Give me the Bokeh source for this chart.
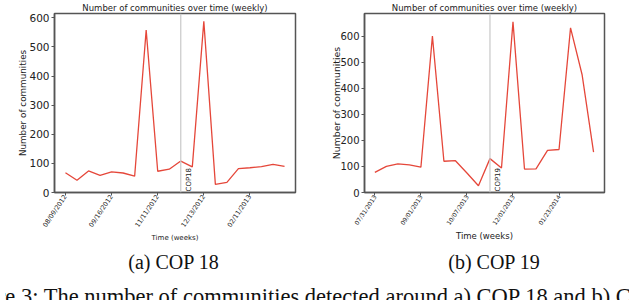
from math import pi
from bokeh.plotting import figure
from bokeh.models import FixedTicker, Span, Label, Div
from bokeh.layouts import row, column
from bokeh.embed import file_html
from bokeh.resources import INLINE

# ---- data ----
weeks_idx = list(range(20))
tick_index = [0, 4, 8, 12, 16]
cop_index = 10
y_ticks = [0, 100, 200, 300, 400, 500, 600]

cop18_tick_labels = ["08/09/2012", "09/16/2012", "11/11/2012", "12/13/2012", "02/11/2013"]
cop18_values = [68, 42, 74, 59, 71, 67, 56, 558, 73, 80, 108, 88, 588, 28, 35, 82, 85, 89, 97, 90]

cop19_tick_labels = ["07/31/2013", "09/01/2013", "10/07/2013", "12/01/2013", "01/23/2014"]
cop19_values = [77, 100, 110, 106, 97, 600, 120, 122, 75, 26, 130, 94, 655, 90, 91, 162, 165, 632, 453, 155]

title_text = "Number of communities over time (weekly)"
ylabel_text = "Number of communities"
xlabel_text = "Time (weeks)"
sub_captions = ["(a) COP 18", "(b) COP 19"]
figure_caption = "Figure 3: The number of communities detected around a) COP 18 and b) COP 19."

LINE = "#e5473a"
FRAME = "#555555"
SANS = "DejaVu Sans"
SERIF = "Liberation Serif"


def panel(values, tick_labels, cop_text, xr, ymax, mb_left, mb_right,
          ytick_fs, ylab_fs, ylab_standoff, xtick_fs, xlab_fs):
    p = figure(width=312, height=245, x_range=xr, y_range=(0, ymax),
               output_backend="svg", toolbar_location=None,
               min_border_left=mb_left, min_border_right=mb_right,
               min_border_top=0, min_border_bottom=0)
    p.title.text = title_text
    p.title.align = "center"
    p.title.text_font = SANS
    p.title.text_font_size = "8.5px"
    p.title.text_font_style = "normal"
    p.title.text_color = "#222222"
    p.title.standoff = 1

    p.xgrid.visible = False
    p.ygrid.visible = False
    p.outline_line_color = FRAME
    p.outline_line_width = 1.5
    p.background_fill_color = "white"
    p.border_fill_color = "white"

    for ax in (p.xaxis[0], p.yaxis[0]):
        ax.axis_line_color = FRAME
        ax.axis_line_width = 1.5
        ax.major_tick_line_color = FRAME
        ax.major_tick_in = 0
        ax.major_tick_out = 3
        ax.minor_tick_line_color = None
        ax.major_label_text_font = SANS
        ax.major_label_text_color = "#222222"
        ax.axis_label_text_font = SANS
        ax.axis_label_text_font_style = "normal"
        ax.axis_label_text_color = "#222222"

    p.yaxis.ticker = FixedTicker(ticks=y_ticks)
    p.yaxis.major_label_text_font_size = ytick_fs
    p.yaxis.major_label_standoff = 2
    p.yaxis.axis_label = ylabel_text
    p.yaxis.axis_label_text_font_size = ylab_fs
    p.yaxis.axis_label_standoff = ylab_standoff

    p.xaxis.ticker = FixedTicker(ticks=tick_index)
    p.xaxis.major_label_overrides = {i: lab for i, lab in zip(tick_index, tick_labels)}
    p.xaxis.major_label_orientation = 0.98
    p.xaxis.major_label_text_font_size = xtick_fs
    p.xaxis.major_label_standoff = 0
    p.xaxis.axis_label = xlabel_text
    p.xaxis.axis_label_text_font_size = xlab_fs
    p.xaxis.axis_label_standoff = 0

    p.add_layout(Span(location=cop_index, dimension="height",
                      line_color="#c8c8c8", line_width=1.2))
    p.line(weeks_idx, values, line_color=LINE, line_width=1.3)
    p.add_layout(Label(x=cop_index, y=0, x_offset=4, y_offset=1, text=cop_text,
                       angle=pi / 2, text_align="left", text_baseline="top",
                       text_font=SANS, text_font_size="7px", text_color="#222222"))
    return p


p1 = panel(cop18_values, cop18_tick_labels, "COP18",
           (-0.95, 19.95), 615, 54, 17, "10.5px", "8.8px", -2, "6.5px", "7px")
p2 = panel(cop19_values, cop19_tick_labels, "COP19",
           (-0.9, 19.95), 687, 52, 20, "10px", "9.3px", -5, "6px", "8.5px")


def cap_div(text, pad):
    html = ('<div style="box-sizing:border-box;width:312px;padding-left:%dpx;margin-top:0px;'
            'text-align:center;white-space:nowrap;font-family:\'Liberation Serif\';'
            'font-size:20px;line-height:24px;color:#111">%s</div>' % (pad, text))
    return Div(text=html, width=312, height=24)


cap1 = cap_div(sub_captions[0], 25)
cap2 = cap_div(sub_captions[1], 22)

last_html = ('<div style="box-sizing:border-box;display:flex;justify-content:center;'
             'white-space:nowrap;width:624px;padding-left:15px;margin-top:2px;'
             'font-family:\'Liberation Serif\';font-size:22.5px;line-height:22px;color:#111">'
             + figure_caption + '</div>')
last = Div(text=last_html, width=624, height=16, styles={"overflow": "hidden"})

layout = column(row(p1, p2), row(cap1, cap2), last)
open("out.html", "w").write(file_html(layout, INLINE))
